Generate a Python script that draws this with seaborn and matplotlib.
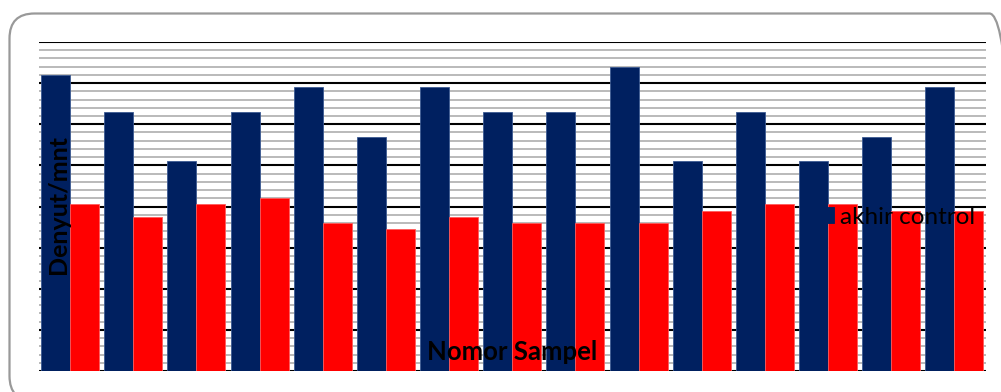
import matplotlib
matplotlib.use("Agg")
import matplotlib.pyplot as plt
import seaborn as sns
import pandas as pd
from matplotlib.ticker import MultipleLocator
from matplotlib.patches import FancyBboxPatch
from matplotlib.transforms import IdentityTransform

# ---- data ----
samples = [str(i) for i in range(1, 16)]
akhir_control = [144, 126, 102, 126, 138, 114, 138, 126, 126, 148, 102, 126, 102, 114, 138]
awal_control = [81, 75, 81, 84, 72, 69, 75, 72, 72, 72, 78, 81, 81, 78, 78]
series_names = ["akhir control", "awal control"]
x_label = "Nomor Sampel"
y_label = "Denyut/mnt"

df = pd.DataFrame({
    "sample": samples * 2,
    "series": [series_names[0]] * len(samples) + [series_names[1]] * len(samples),
    "value": akhir_control + awal_control,
})

navy = "#002060"
red = "#FF0000"

fig = plt.figure(figsize=(10.01, 3.92), dpi=100)
ax = fig.add_axes([38.5 / 1001, 21 / 392, 947.5 / 1001, 329 / 392])

sns.barplot(data=df, x="sample", y="value", hue="series", order=samples,
            hue_order=series_names, palette=[navy, red], width=0.92,
            gap=0, legend=False, ax=ax, saturation=1)

for p in ax.containers[0]:
    p.set_edgecolor("#3c5a92")
    p.set_linewidth(0.6)
for p in ax.containers[1]:
    p.set_edgecolor("#ff5a5a")
    p.set_linewidth(0.6)

ax.set_ylim(0, 160)
ax.set_xlim(-0.5, 14.5)
ax.yaxis.set_major_locator(MultipleLocator(20))
ax.yaxis.set_minor_locator(MultipleLocator(4))
ax.grid(which="minor", axis="y", color="#b4b4b4", linewidth=1.3)
ax.grid(which="major", axis="y", color="black", linewidth=1.5)
ax.grid(False, axis="x")
ax.set_axisbelow(True)
ax.tick_params(which="both", length=0, labelleft=False, labelbottom=False)
ax.set_xlabel("")
ax.set_ylabel("")
for s in ax.spines.values():
    s.set_visible(False)

font = "Lato"
ax.text((512 - 38.5) / 947.5, (371 - 352) / 329, x_label, transform=ax.transAxes,
        ha="center", va="center", fontsize=18.5, fontweight="bold", family=font, zorder=10)
ax.text((58 - 38.5) / 947.5, (371 - 205) / 329, y_label, transform=ax.transAxes,
        ha="center", va="center", rotation=90, fontsize=18, fontweight="bold",
        family=font, zorder=10)

leg = ax.legend(handles=[ax.containers[0]], labels=[series_names[0]],
                loc="center left", bbox_to_anchor=((819 - 38.5) / 947.5, (371 - 217) / 329),
                frameon=False, prop={"family": font, "size": 17.5},
                handlelength=0.6, handleheight=0.6, handletextpad=0.25,
                borderpad=0, borderaxespad=0)
leg.set_zorder(10)
for h in leg.legend_handles:
    h.set_edgecolor(navy)

frame = FancyBboxPatch((9.5, -9), 1005, 387.5,
                       boxstyle="round,pad=0,rounding_size=25",
                       transform=IdentityTransform(), facecolor="none",
                       edgecolor="#999999", linewidth=1.6)
fig.patches.append(frame)

fig.savefig("out.png", dpi=100)
